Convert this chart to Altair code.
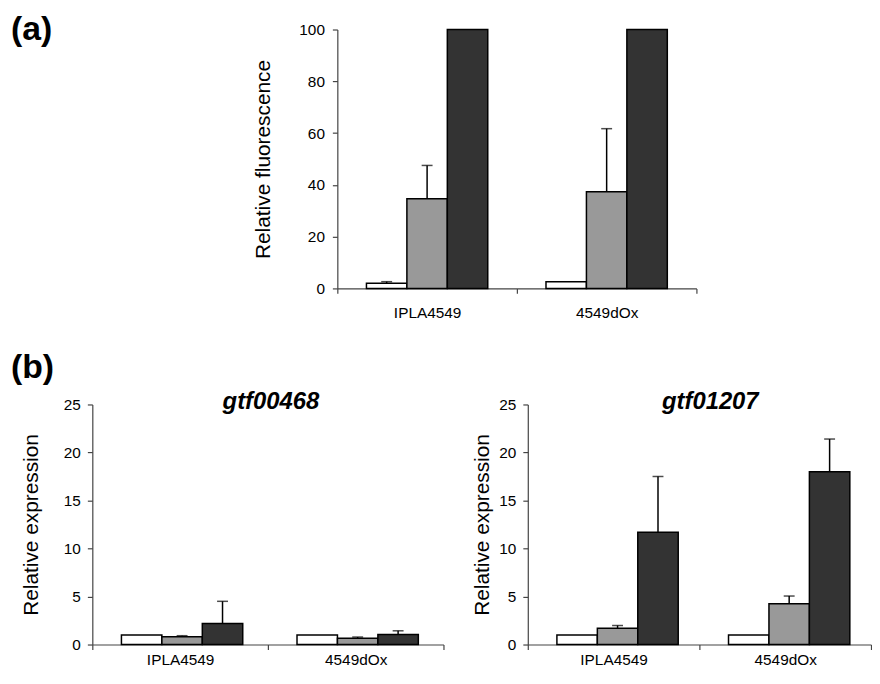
import altair as alt
import pandas as pd

FONT = "Liberation Sans"

groups = ["IPLA4549", "4549dOx"]
series = ["condition 1", "condition 2", "condition 3"]
colors = ["#ffffff", "#999999", "#333333"]
panel_labels = ["(a)", "(b)"]
gene_titles = ["gtf00468", "gtf01207"]

# (a) relative fluorescence
a_values = [2.0, 34.6, 100.0, 2.6, 37.3, 100.0]
a_errors = [0.6, 12.9, 0.0, 0.0, 24.4, 0.0]

# (b) gtf00468 relative expression
b1_values = [1.0, 0.8, 2.2, 1.0, 0.65, 1.05]
b1_errors = [0.0, 0.12, 2.3, 0.0, 0.13, 0.38]

# (b) gtf01207 relative expression
b2_values = [1.0, 1.7, 11.7, 1.0, 4.25, 18.0]
b2_errors = [0.0, 0.28, 5.8, 0.0, 0.8, 3.4]


def make_df(values, errors):
    rows = []
    i = 0
    for g in groups:
        for s in series:
            rows.append({"group": g, "series": s, "value": values[i],
                         "err": errors[i], "top": values[i] + errors[i]})
            i += 1
    return pd.DataFrame(rows)


def panel(df, ymax, ystep, ytitle, title_pad, ylabel_pad, xlabel_pad):
    x = alt.X("group:N", sort=groups, title=None,
              scale=alt.Scale(paddingInner=0, paddingOuter=0),
              axis=alt.Axis(labelAngle=0, tickBand="extent", tickSize=5,
                            labelFont=FONT, labelFontSize=15.5, labelColor="black",
                            labelPadding=xlabel_pad, domainColor="#444",
                            tickColor="#444", domainWidth=1.2, tickWidth=1.2))
    xo = alt.XOffset("series:N", sort=series,
                     scale=alt.Scale(paddingInner=0, paddingOuter=0.72))
    y = alt.Y("value:Q", scale=alt.Scale(domain=[0, ymax], nice=False),
              axis=alt.Axis(values=list(range(0, ymax + 1, ystep)), title=ytitle,
                            grid=False, tickSize=5, labelFont=FONT,
                            labelFontSize=15.5, labelColor="black",
                            labelPadding=ylabel_pad,
                            titleFont=FONT, titleFontSize=21, titleFontWeight="normal",
                            titleColor="black", titlePadding=title_pad,
                            domainColor="#444", tickColor="#444",
                            domainWidth=1.2, tickWidth=1.2))
    base = alt.Chart(df)
    bars = base.mark_bar(stroke="black", strokeWidth=1.5, opacity=1).encode(
        x=x, xOffset=xo, y=y,
        color=alt.Color("series:N", scale=alt.Scale(domain=series, range=colors),
                        legend=None))
    eb = base.transform_filter("datum.err > 0")
    rule = eb.mark_rule(color="black", strokeWidth=1.5).encode(
        x=x, xOffset=xo, y="value:Q", y2="top:Q")
    cap = eb.mark_tick(color="black", size=11, thickness=1.5, orient="horizontal").encode(
        x=x, xOffset=xo, y="top:Q")
    return [bars, rule, cap]


def label_layer(text, dx, dy):
    return alt.Chart(pd.DataFrame({"label": [text]})).mark_text(
        font=FONT, fontSize=34, fontWeight="bold", align="left", baseline="top",
        color="black").encode(text="label:N", x=alt.value(dx), y=alt.value(dy))


def gene_title(text, cx, dy):
    return alt.Chart(pd.DataFrame({"label": [text]})).mark_text(
        font=FONT, fontSize=24, fontWeight="bold", fontStyle="italic",
        align="center", baseline="alphabetic", color="black").encode(
        text="label:N", x=alt.value(cx), y=alt.value(dy))


no_frame = alt.ViewBackground(stroke="transparent", strokeWidth=0)

spacer = label_layer(panel_labels[0], -82, -16).properties(
    width=162, height=261, view=no_frame)

top = alt.layer(
    *panel(make_df(a_values, a_errors), 100, 20, "Relative fluorescence", 26, 8, 12),
).properties(width=362, height=261, view=no_frame)

left = alt.layer(
    *panel(make_df(b1_values, b1_errors), 25, 5, "Relative expression", 22, 7, 3),
    gene_title(gene_titles[0], 180, 5),
    label_layer(panel_labels[1], -82, -54),
).properties(width=354, height=242, view=no_frame)

right = alt.layer(
    *panel(make_df(b2_values, b2_errors), 25, 5, "Relative expression", 6, 7, 3),
    gene_title(gene_titles[1], 184, 5),
).properties(width=346, height=242, view=no_frame)

top_row = alt.hconcat(spacer, top, spacing=85, bounds="flush")
bottom_row = alt.hconcat(left, right, spacing=85, bounds="flush")

chart = alt.vconcat(
    top_row, bottom_row, spacing=30,
    padding={"left": 3, "top": 3, "right": 0, "bottom": 0},
).configure_view(stroke="transparent", strokeWidth=0).configure(background="white")

chart.save("out.html", embed_options={"renderer": "svg", "actions": False})
